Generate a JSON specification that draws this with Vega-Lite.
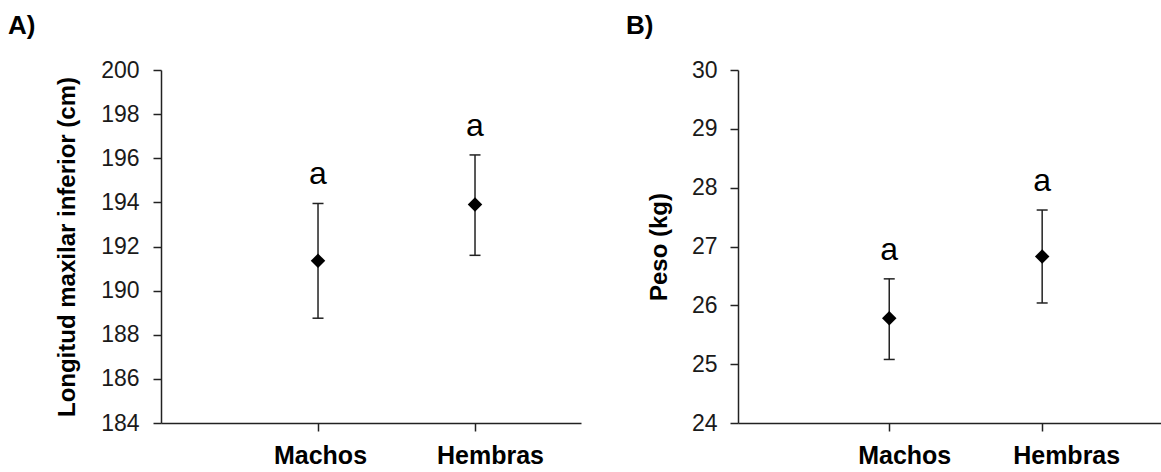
{
  "$schema": "https://vega.github.io/schema/vega-lite/v6.json",
  "background": "white",
  "padding": {"left": 8, "top": 13, "right": 0, "bottom": 0},
  "config": {
    "font": "Liberation Sans",
    "view": {"stroke": null},
    "axis": {"domainColor": "#222", "domainWidth": 1.5, "tickColor": "#222", "tickWidth": 1.5, "tickSize": 8, "grid": false, "labelColor": "#1a1a1a", "labelFont": "Liberation Sans", "titleFont": "Liberation Sans", "titleColor": "#000"},
    "title": {"font": "Liberation Sans", "fontSize": 26, "fontWeight": "bold", "anchor": "start", "color": "#000", "frame": "group"}
  },
  "datasets": {
    "longitud": [
      {"sexo": "Machos", "media": 191.35, "inf": 188.75, "sup": 193.95, "letra": "a"},
      {"sexo": "Hembras", "media": 193.9, "inf": 191.6, "sup": 196.15, "letra": "a"}
    ],
    "peso": [
      {"sexo": "Machos", "media": 25.78, "inf": 25.08, "sup": 26.45, "letra": "a"},
      {"sexo": "Hembras", "media": 26.83, "inf": 26.04, "sup": 27.62, "letra": "a"}
    ]
  },
  "spacing": 45,
  "resolve": {"scale": {"y": "independent", "x": "independent"}},
  "hconcat": [
    {
      "title": {"text": "A)", "dx": -153, "offset": 20},
      "width": 420,
      "height": 353,
      "data": {"name": "longitud"},
      "encoding": {
        "x": {"field": "sexo", "type": "nominal", "sort": ["Machos", "Hembras"],
          "scale": {"type": "point", "padding": 0.8376, "align": 0.597},
          "axis": {"title": null, "labelAngle": 0, "labelFontSize": 25, "labelFontWeight": "bold", "labelColor": "#000", "labelPadding": 12,
            "labelOffset": {"condition": {"test": "datum.value === 'Hembras'", "value": 15}, "value": 2}}}
      },
      "layer": [
        {"mark": {"type": "rule", "strokeWidth": 1.5, "color": "#222"},
         "encoding": {
           "y": {"field": "inf", "type": "quantitative", "scale": {"domain": [184, 200], "nice": false, "zero": false},
             "axis": {"title": "Longitud maxilar inferior (cm)", "values": [184, 186, 188, 190, 192, 194, 196, 198, 200], "format": "d", "labelFontSize": 23, "titleFontSize": 24, "titleFontWeight": "bold", "labelPadding": 14, "titlePadding": 21}},
           "y2": {"field": "sup"}}},
        {"mark": {"type": "tick", "orient": "horizontal", "size": 11, "thickness": 1.5, "color": "#222", "opacity": 1},
         "encoding": {"y": {"field": "inf", "type": "quantitative"}}},
        {"mark": {"type": "tick", "orient": "horizontal", "size": 11, "thickness": 1.5, "color": "#222", "opacity": 1},
         "encoding": {"y": {"field": "sup", "type": "quantitative"}}},
        {"mark": {"type": "point", "shape": "diamond", "filled": true, "size": 210, "color": "#000", "opacity": 1},
         "encoding": {"y": {"field": "media", "type": "quantitative"}}},
        {"mark": {"type": "text", "fontSize": 32, "baseline": "bottom", "dy": -12, "color": "#000"},
         "encoding": {"y": {"field": "sup", "type": "quantitative"}, "text": {"field": "letra"}}}
      ]
    },
    {
      "title": {"text": "B)", "dx": -112, "offset": 20},
      "width": 423,
      "height": 353,
      "data": {"name": "peso"},
      "encoding": {
        "x": {"field": "sexo", "type": "nominal", "sort": ["Machos", "Hembras"],
          "scale": {"type": "point", "padding": 0.883, "align": 0.56},
          "axis": {"title": null, "labelAngle": 0, "labelFontSize": 25, "labelFontWeight": "bold", "labelColor": "#000", "labelPadding": 12,
            "labelOffset": {"condition": {"test": "datum.value === 'Hembras'", "value": 24}, "value": 15}}}
      },
      "layer": [
        {"mark": {"type": "rule", "strokeWidth": 1.5, "color": "#222"},
         "encoding": {
           "y": {"field": "inf", "type": "quantitative", "scale": {"domain": [24, 30], "nice": false, "zero": false},
             "axis": {"title": "Peso (kg)", "values": [24, 25, 26, 27, 28, 29, 30], "format": "d", "labelFontSize": 23, "titleFontSize": 24, "titleFontWeight": "bold", "labelPadding": 13, "titlePadding": 20}},
           "y2": {"field": "sup"}}},
        {"mark": {"type": "tick", "orient": "horizontal", "size": 11, "thickness": 1.5, "color": "#222", "opacity": 1},
         "encoding": {"y": {"field": "inf", "type": "quantitative"}}},
        {"mark": {"type": "tick", "orient": "horizontal", "size": 11, "thickness": 1.5, "color": "#222", "opacity": 1},
         "encoding": {"y": {"field": "sup", "type": "quantitative"}}},
        {"mark": {"type": "point", "shape": "diamond", "filled": true, "size": 210, "color": "#000", "opacity": 1},
         "encoding": {"y": {"field": "media", "type": "quantitative"}}},
        {"mark": {"type": "text", "fontSize": 32, "baseline": "bottom", "dy": -12, "color": "#000"},
         "encoding": {"y": {"field": "sup", "type": "quantitative"}, "text": {"field": "letra"}}}
      ]
    }
  ]
}
